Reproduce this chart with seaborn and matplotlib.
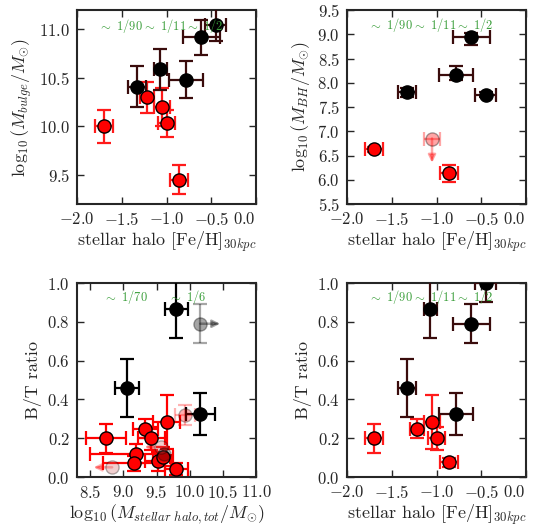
import numpy as np
import pandas as pd
import matplotlib
matplotlib.use("Agg")
import matplotlib.pyplot as plt
import seaborn as sns

sns.set_style("ticks")
plt.rcParams.update({
    "font.family": "serif",
    "font.serif": ["cmr10", "DejaVu Serif"],
    "mathtext.fontset": "cm",
    "axes.formatter.use_mathtext": True,
    "font.size": 12,
    "axes.linewidth": 1.5,
})

# ---------------- data ----------------
# metal-rich (black) galaxies
feh_blk = [-1.33, -1.07, -0.78, -0.61, -0.45]
feh_blk_err = [0.10, 0.075, 0.19, 0.21, 0.12]
bulge_blk = [10.41, 10.59, 10.48, 10.92, 11.05]
bulge_blk_err = [0.21, 0.21, 0.19, 0.18, 0.17]
bt_blk = [0.46, 0.865, 0.325, 0.79, 1.0]
bt_blk_err = [0.15, 0.15, 0.11, 0.10, 0.10]

# metal-poor (red) galaxies
feh_red = [-1.70, -1.22, -1.05, -1.00, -0.86]
feh_red_err = [0.10, 0.08, 0.09, 0.09, 0.10]
bulge_red = [10.00, 10.30, 10.20, 10.03, 9.45]
bulge_red_err = [0.17, 0.16, 0.20, 0.14, 0.15]
bt_red = [0.20, 0.25, 0.285, 0.20, 0.075]
bt_red_err = [0.075, 0.05, 0.14, 0.06, 0.025]

# black hole masses
bh_feh_blk = [-1.33, -0.78, -0.61, -0.45]
bh_feh_blk_err = [0.10, 0.19, 0.21, 0.12]
bh_blk = [7.80, 8.15, 8.95, 7.75]
bh_blk_err_lo = [0.09, 0.10, 0.17, 0.05]
bh_blk_err_hi = [0.09, 0.20, 0.08, 0.05]
bh_feh_red = [-1.70, -0.86]
bh_feh_red_err = [0.10, 0.10]
bh_red = [6.63, 6.13]
bh_red_err = [0.05, 0.18]
bh_lim_feh = [-1.05]
bh_lim_feh_err = [0.09]
bh_lim = [6.85]
bh_lim_len = [0.5]

# stellar halo mass vs B/T
mh_blk = [9.06, 9.80, 10.16]
mh_blk_err = [0.18, 0.17, 0.22]
mh_bt_blk = [0.46, 0.865, 0.325]
mh_bt_blk_err = [0.15, 0.15, 0.11]
mh_red = [8.74, 9.33, 9.42, 9.65, 9.19, 9.16, 9.52, 9.60, 9.80]
mh_red_err_lo = [0.30, 0.19, 0.20, 0.20, 0.70, 0.47, 0.20, 0.15, 0.18]
mh_red_err_hi = [0.30, 0.19, 0.20, 0.20, 0.45, 0.47, 0.20, 0.15, 0.18]
mh_bt_red = [0.20, 0.25, 0.20, 0.285, 0.12, 0.07, 0.08, 0.105, 0.04]
mh_bt_red_err = [0.075, 0.05, 0.06, 0.14, 0.05, 0.04, 0.05, 0.05, 0.03]
# faded points (limits)
mh_gray_lim = [10.16]
mh_bt_gray_lim = [0.79]
mh_bt_gray_lim_err = [0.10]
mh_gray_lim_len = [0.30]
mh_gray = [9.61]
mh_bt_gray = [0.12]
mh_pink = [9.93]
mh_pink_err = [0.15]
mh_bt_pink = [0.32]
mh_bt_pink_err = [0.05]
mh_pink_lim = [9.57, 8.83]
mh_bt_pink_lim = [0.155, 0.05]
mh_pink_lim_len = [0.25, 0.28]

ratio_feh = ["$\\sim$ 1/90", "$\\sim$ 1/11", "$\\sim$ 1/2"]
ratio_mh = ["$\\sim$ 1/70", "$\\sim$ 1/6"]

# ---------------- plotting ----------------
fig = plt.figure(figsize=(5.35, 5.29), dpi=100)
W, H = 179 / 535, 194 / 529
ax1 = fig.add_axes([77 / 535, 1 - 204 / 529, W, H])
ax2 = fig.add_axes([347 / 535, 1 - 204 / 529, W, H])
ax3 = fig.add_axes([77 / 535, 1 - 477 / 529, W, H])
ax4 = fig.add_axes([347 / 535, 1 - 477 / 529, W, H])

BLK_E = "#3a0c0c"
RED_E = "#ff1a1a"
GREEN = "#3a9e3a"
MS = 90
TXT = 9
LAB = 13


def pts(ax, x, y, xerr, yerr, face, ecol, alpha=1.0, z=3):
    ax.errorbar(x, y, xerr=xerr, yerr=yerr, fmt="none", ecolor=ecol,
                elinewidth=1.6, capsize=5, capthick=1.6, zorder=z, alpha=alpha)
    df = pd.DataFrame({"x": x, "y": y})
    sns.scatterplot(data=df, x="x", y="y", ax=ax, color=face, edgecolor="k",
                    s=MS, linewidth=1.0, zorder=z + 0.5, alpha=alpha, legend=False)


def arrows(ax, x, y, dx, dy, color, alpha):
    for xi, yi, ddx, ddy in zip(x, y, dx, dy):
        ax.annotate("", xy=(xi + ddx, yi + ddy), xytext=(xi, yi),
                    arrowprops=dict(arrowstyle="-|>", color=color, alpha=alpha,
                                    lw=1.8, mutation_scale=11, shrinkA=0, shrinkB=0),
                    zorder=3)


def style(ax, xlim, ylim, xticks, yticks, right_last=False):
    ax.set_xlim(*xlim)
    ax.set_ylim(*ylim)
    ax.set_xticks(xticks)
    ax.set_yticks(yticks)
    ax.tick_params(direction="in", top=True, right=True, length=5, width=1,
                   labelsize=12)
    ax.tick_params(axis="x", pad=5)
    ax.tick_params(axis="y", pad=5)
    for s in ax.spines.values():
        s.set_visible(True)
        s.set_linewidth(1.5)
    if right_last:
        fig.canvas.draw()
        ax.get_xticklabels()[-1].set_horizontalalignment("right")


feh_label = "stellar halo [Fe/H]$_{30kpc}$"
txt_x_feh = [-1.77, -1.27, -0.79]

# panel 1
pts(ax1, feh_red, bulge_red, feh_red_err, bulge_red_err, "red", RED_E)
pts(ax1, feh_blk, bulge_blk, feh_blk_err, bulge_blk_err, "black", BLK_E)
style(ax1, (-2, 0), (9.2, 11.2), np.arange(-2, 0.01, 0.5), [9.5, 10.0, 10.5, 11.0], True)
ax1.set_xlabel(feh_label, fontsize=LAB, labelpad=1)
ax1.set_ylabel("$\\log_{10}(M_{bulge}/M_{\\odot})$", fontsize=LAB)
for t, xx in zip(ratio_feh, txt_x_feh):
    ax1.text(xx, 11.04, t, color=GREEN, fontsize=TXT, va="center", ha="left", zorder=6)

# panel 2
pts(ax2, bh_feh_red, bh_red, bh_feh_red_err, bh_red_err, "red", RED_E)
pts(ax2, bh_feh_blk, bh_blk, bh_feh_blk_err, [bh_blk_err_lo, bh_blk_err_hi], "black", BLK_E)
arrows(ax2, bh_lim_feh, bh_lim, [0] * len(bh_lim), [-v for v in bh_lim_len], "red", 0.35)
pts(ax2, bh_lim_feh, bh_lim, bh_lim_feh_err, None, "red", "red", alpha=0.35)
style(ax2, (-2, 0), (5.5, 9.5), np.arange(-2, 0.01, 0.5), np.arange(5.5, 9.51, 0.5), True)
ax2.set_xlabel(feh_label, fontsize=LAB, labelpad=1)
ax2.set_ylabel("$\\log_{10}(M_{BH}/M_{\\odot})$", fontsize=LAB)
for t, xx in zip(ratio_feh, txt_x_feh):
    ax2.text(xx, 9.19, t, color=GREEN, fontsize=TXT, va="center", ha="left", zorder=6)

# panel 3
pts(ax3, mh_red, mh_bt_red, [mh_red_err_lo, mh_red_err_hi], mh_bt_red_err, "red", "red")
pts(ax3, mh_pink, mh_bt_pink, mh_pink_err, mh_bt_pink_err, "red", "red", alpha=0.3)
arrows(ax3, mh_pink_lim, mh_bt_pink_lim, [-v for v in mh_pink_lim_len],
       [0] * len(mh_pink_lim), "red", 0.3)
sns.scatterplot(x=mh_pink_lim, y=mh_bt_pink_lim, ax=ax3, color="#d06060", edgecolor="k",
                s=MS, linewidth=1.0, alpha=0.3, zorder=3.5, legend=False)
sns.scatterplot(x=mh_gray, y=mh_bt_gray, ax=ax3, color="black", edgecolor="k",
                s=MS, linewidth=1.0, alpha=0.3, zorder=3.6, legend=False)
pts(ax3, mh_blk, mh_bt_blk, mh_blk_err, mh_bt_blk_err, "black", "black")
arrows(ax3, mh_gray_lim, mh_bt_gray_lim, mh_gray_lim_len, [0] * len(mh_gray_lim), "black", 0.35)
pts(ax3, mh_gray_lim, mh_bt_gray_lim, None, mh_bt_gray_lim_err, "black", "black", alpha=0.35)
style(ax3, (8.3, 11.0), (0, 1.0), np.arange(8.5, 11.01, 0.5), np.arange(0, 1.01, 0.2))
ax3.set_xlabel("$\\log_{10}(M_{stellar\\ halo,tot}/M_{\\odot})$", fontsize=LAB, labelpad=1)
ax3.set_ylabel("B/T ratio", fontsize=LAB)
for t, xx in zip(ratio_mh, [8.69, 9.68]):
    ax3.text(xx, 0.93, t, color=GREEN, fontsize=TXT, va="center", ha="left", zorder=6)

# panel 4
pts(ax4, feh_red, bt_red, feh_red_err, bt_red_err, "red", RED_E)
pts(ax4, feh_blk, bt_blk, feh_blk_err, bt_blk_err, "black", BLK_E)
style(ax4, (-2, 0), (0, 1.0), np.arange(-2, 0.01, 0.5), np.arange(0, 1.01, 0.2), True)
ax4.set_xlabel(feh_label, fontsize=LAB, labelpad=1)
ax4.set_ylabel("B/T ratio", fontsize=LAB)
for t, xx in zip(ratio_feh, txt_x_feh):
    ax4.text(xx, 0.93, t, color=GREEN, fontsize=TXT, va="center", ha="left", zorder=6)

fig.savefig("out.png", dpi=100)
